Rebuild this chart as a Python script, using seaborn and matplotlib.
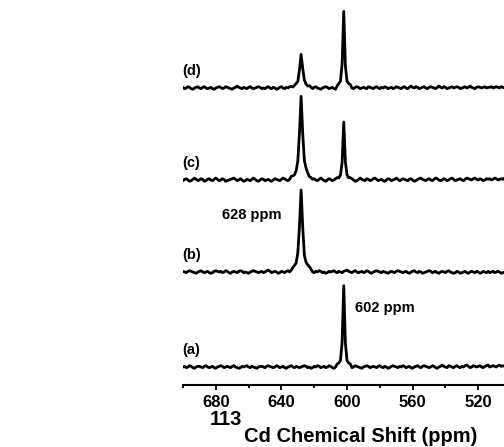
import numpy as np
import pandas as pd
import matplotlib
matplotlib.use("Agg")
import matplotlib.pyplot as plt
import seaborn as sns
from matplotlib.ticker import MultipleLocator

sns.set_theme(style="white")
plt.rcParams['font.family'] = ['Liberation Sans', 'DejaVu Sans']
plt.rcParams['font.weight'] = 'bold'
plt.rcParams['text.color'] = 'black'
plt.rcParams['axes.labelcolor'] = 'black'
plt.rcParams['xtick.color'] = 'black'

# Spectra are sampled every 1 ppm starting at 700 ppm (high shift on the left)
shift_start = 700
shift_step = 1

sample_labels = ["(a)", "(b)", "(c)", "(d)"]
stack_offsets = [18, 113, 205, 297]

# Baseline noise of each spectrum, in counts; one count = noise_unit intensity
noise_unit = 0.65
noise_a = [0, 1, -1, 0, 2, 1, -1, -2, 0, 1, 1, 0, -1, 1, 2, 0, -1, 0, 1, -1,
           -2, 0, 1, 2, 1, -1, 0, 1, 0, -1, 1, 2, 0, -1, -2, -1, 1, 0, 1, 2,
           0, -1, 1, 0, -1, -2, 0, 1, 1, 0, -1, 1, 2, 1, 0, -1, 0, 2, 1, -1,
           0, 1, -1, -2, 0, 1, 2, 0, -1, 1, 0, -1, 0, 1, 2, 1, -1, 0, -2, -1,
           1, 0, 2, 1, -1, 0, 1, -1, 0, 2, 1, -1, -2, 0, 1, 0, -1, 1, 2, 0,
           -1, 0, 1, -1, 0, 2, 1, 0, -1, -2, 0, 1, 2, 1, -1, 0, 1, 0, -1, 1,
           2, 0, -1, 1, 0, -2, -1, 1, 2, 1, 0, -1, 1, 0, 2, 1, -1, 0, 1, -1,
           -2, 0, 1, 2, 0, -1, 1, 2, 1, 0, -1, 0, 2, 1, -1, -2, 0, 1, 3, 1,
           0, -1, 2, 1, 0, -1, 1, 2, 0, -1, 1, 0, 2, 3, 1, -1, 0, 2, 1, 0,
           1, 2, 0, -1, 1, 2, 3, 0, 1, 2, 1, 0, 2, 3, 1, 2, 1, 0, 2, 1, 2]
noise_b = [1, 0, -1, 1, 2, 1, 0, -1, -2, 0, 1, 2, 0, -1, 0, 1, -1, -2, -1, 1,
           2, 1, 0, 1, -1, 0, 2, 1, -1, -2, 0, 1, 0, -1, 1, 2, 1, -1, 0, -1,
           -2, 0, 1, 2, 1, 0, -1, 0, 1, -1, 0, 2, 3, 1, -1, 0, 1, 0, -2, -1,
           1, 0, -1, 1, 2, 0, -1, 1, 0, -1, 2, 1, 0, -1, -2, 0, 1, 2, 1, 0,
           -1, 1, 0, 2, 1, -1, 0, -2, -1, 1, 0, 1, 2, 0, -1, 1, 0, -1, 1, 2,
           3, 1, 0, -1, 1, 2, 0, -1, 0, 1, -1, 0, 2, 1, -1, -2, 0, 1, 2, 1,
           0, -1, 1, 0, -1, -2, 0, 1, 0, -1, 1, 2, 1, 0, -1, 0, 1, -1, -2, 0,
           1, 2, 0, -1, 1, 0, -2, -1, 0, 1, 2, 1, -1, 0, 1, -1, -2, 0, 1, 0,
           -1, 1, 2, 0, -1, -2, -1, 1, 0, -2, -1, 0, 1, -1, -2, 0, 1, 0, -1, 1,
           0, -2, -1, 1, 0, -1, 1, -1, 0, 1, -1, 0, 1, 0, -2, -1, 0, 1, 0, -1, 1]
noise_c = [-1, 1, 2, 0, -2, -1, 1, 3, 1, -1, 0, 2, 1, -2, -1, 1, 2, 0, -1, 1,
           3, 1, -1, 0, 2, 1, -2, -1, 0, 1, 2, 3, 1, -1, 0, 2, 0, -2, -1, 1,
           0, -1, 1, 3, 1, -1, -2, 0, 2, 1, -1, 0, 1, -1, -2, 0, 2, 1, 0, -1,
           1, 3, 2, 0, -1, 1, 2, 0, -2, -1, 1, 2, 1, 0, 2, 3, 1, -1, 0, 1,
           2, 0, -1, 1, 3, 1, -1, -2, 0, 2, 1, -1, 0, 2, 1, -1, 0, 1, 3, 2,
           0, -1, 1, 2, 0, -2, -1, 1, 3, 1, 0, -1, 2, 1, -1, 0, 2, 3, 1, -1,
           0, 1, -1, -2, 0, 2, 1, -1, 0, 1, 3, 1, -1, 0, 2, 1, 0, -1, 1, 2,
           0, -2, -1, 1, 2, 3, 1, 0, -1, 1, 2, 0, -1, 1, 3, 2, 0, -1, 0, 2,
           1, -1, 0, 2, 3, 1, -1, 0, 1, 2, 0, -1, 1, 3, 2, 1, 0, 2, 3, 1,
           0, 2, 1, -1, 0, 2, 1, 2, 0, 1, 3, 2, 0, 1, 2, 1, 3, 2, 1, 0, 2]
noise_d = [1, -1, 0, 2, 1, -1, -2, 0, 1, 2, 0, -1, 1, 2, 0, -1, 0, 1, -1, -2,
           0, 1, 2, 1, -1, 0, 2, 1, 0, -1, -2, 0, 1, 3, 1, 0, -1, 1, 0, -1,
           1, 2, 0, -1, 0, 1, 2, 1, -1, 0, -1, 1, 2, 0, -1, 1, 0, -2, -1, 1,
           2, 0, -1, 1, 0, 2, 1, -1, 0, 1, -1, 0, 1, 2, 1, 0, -1, 1, 0, -1,
           1, 2, 0, -1, -2, 0, 1, 2, 1, -1, 0, 1, -1, -2, 0, 1, 0, 2, 1, -1,
           0, 1, 2, 0, -1, 1, 2, 1, -1, 0, 1, 0, -1, 2, 1, 0, -1, 1, 2, 0,
           -1, 1, 0, 2, 1, -1, 0, 1, -1, 0, 2, 1, 0, -1, 1, 2, 0, -1, 1, 3,
           1, 0, 2, 1, -1, 0, 1, 2, 0, -1, 1, 2, 1, 0, -1, 1, 3, 1, 0, 2,
           1, -1, 0, 1, 2, 0, 1, 2, 1, -1, 0, 1, 2, 0, 1, 3, 1, 0, -1, 1,
           2, 1, 0, 1, 2, 0, 1, 1, 2, 0, 1, 2, 1, 0, 2, 1, 0, 1, 2, 1, 0]
baseline_noise = [noise_a, noise_b, noise_c, noise_d]

# Resonances of each spectrum: shift (ppm), height, and line shape
peak_shifts = [[602], [628], [628, 602], [628, 602]]
peak_heights = [[80], [82], [83, 56], [33, 76]]
peak_shapes = [["narrow"], ["broad"], ["broad", "narrow"], ["broad", "narrow"]]

# Normalised line profiles sampled at 1 ppm, centred on the maximum
line_profiles = {
    "narrow": [0.03, 0.05, 0.09, 0.30, 1.0, 0.30, 0.09, 0.05, 0.03],
    "broad": [0.03, 0.05, 0.08, 0.12, 0.22, 0.55, 1.0, 0.55, 0.22, 0.12,
              0.08, 0.05, 0.03],
}

frames = []
for label, offset, noise, shifts, heights, shapes in zip(
        sample_labels, stack_offsets, baseline_noise,
        peak_shifts, peak_heights, peak_shapes):
    n = len(noise)
    shift = shift_start - shift_step * np.arange(n)
    intensity = noise_unit * np.array(noise, dtype=float)
    for p, h, s in zip(shifts, heights, shapes):
        prof = np.array(line_profiles[s])
        centre = int(round((shift_start - p) / shift_step))
        half = len(prof) // 2
        idx = np.arange(centre - half, centre + half + 1)
        intensity[idx] += h * prof
    frames.append(pd.DataFrame({"shift": shift,
                                "intensity": intensity + offset,
                                "sample": label}))
spectra = pd.concat(frames, ignore_index=True)

W, H = 504, 447
fig = plt.figure(figsize=(W / 100, H / 100), dpi=100)
ax = fig.add_axes([183 / W, (H - 385) / H, 321 / W, 385 / H])

sns.lineplot(data=spectra, x="shift", y="intensity", hue="sample",
             palette=["black"] * 4, legend=False, sort=False, estimator=None,
             linewidth=2.0, ax=ax)

ax.set_xlim(700, 504.3)
ax.set_ylim(0, 385)

for sp in ("left", "right", "top"):
    ax.spines[sp].set_visible(False)
ax.spines["bottom"].set_linewidth(1.5)
ax.spines["bottom"].set_color("black")
ax.set_yticks([])
ax.set_ylabel("")

ax.set_xticks([680, 640, 600, 560, 520])
ax.xaxis.set_minor_locator(MultipleLocator(20))
ax.tick_params(axis="x", which="both", direction="out", bottom=True,
               width=1.3, color="black")
ax.tick_params(axis="x", which="major", length=3.8, labelsize=12, pad=3.2,
               labelcolor="black")
ax.tick_params(axis="x", which="minor", length=2.4)
for t in ax.get_xticklabels():
    t.set_fontweight("bold")

ax.set_xlabel("Cd Chemical Shift (ppm)", fontsize=14.5, fontweight="bold")
ax.xaxis.set_label_coords(0.553, -0.110)
ax.annotate("113", xy=(0, 1), xycoords=ax.xaxis.label,
            xytext=(-1, -1.5), textcoords="offset points",
            ha="right", va="bottom", fontsize=14.5, fontweight="bold")

# Sample tags and peak annotations
for label, offset in zip(sample_labels, stack_offsets):
    ax.text(700.5, offset + 17, label, ha="left", va="center",
            fontsize=10.5, fontweight="bold")

ax.text(peak_shifts[1][0] + 12, stack_offsets[1] + 57,
        f"{peak_shifts[1][0]} ppm", ha="right", va="center",
        fontsize=10.5, fontweight="bold")
ax.text(peak_shifts[0][0] - 7, stack_offsets[0] + 59,
        f"{peak_shifts[0][0]} ppm", ha="left", va="center",
        fontsize=10.5, fontweight="bold")

fig.savefig("out.png", dpi=100)
